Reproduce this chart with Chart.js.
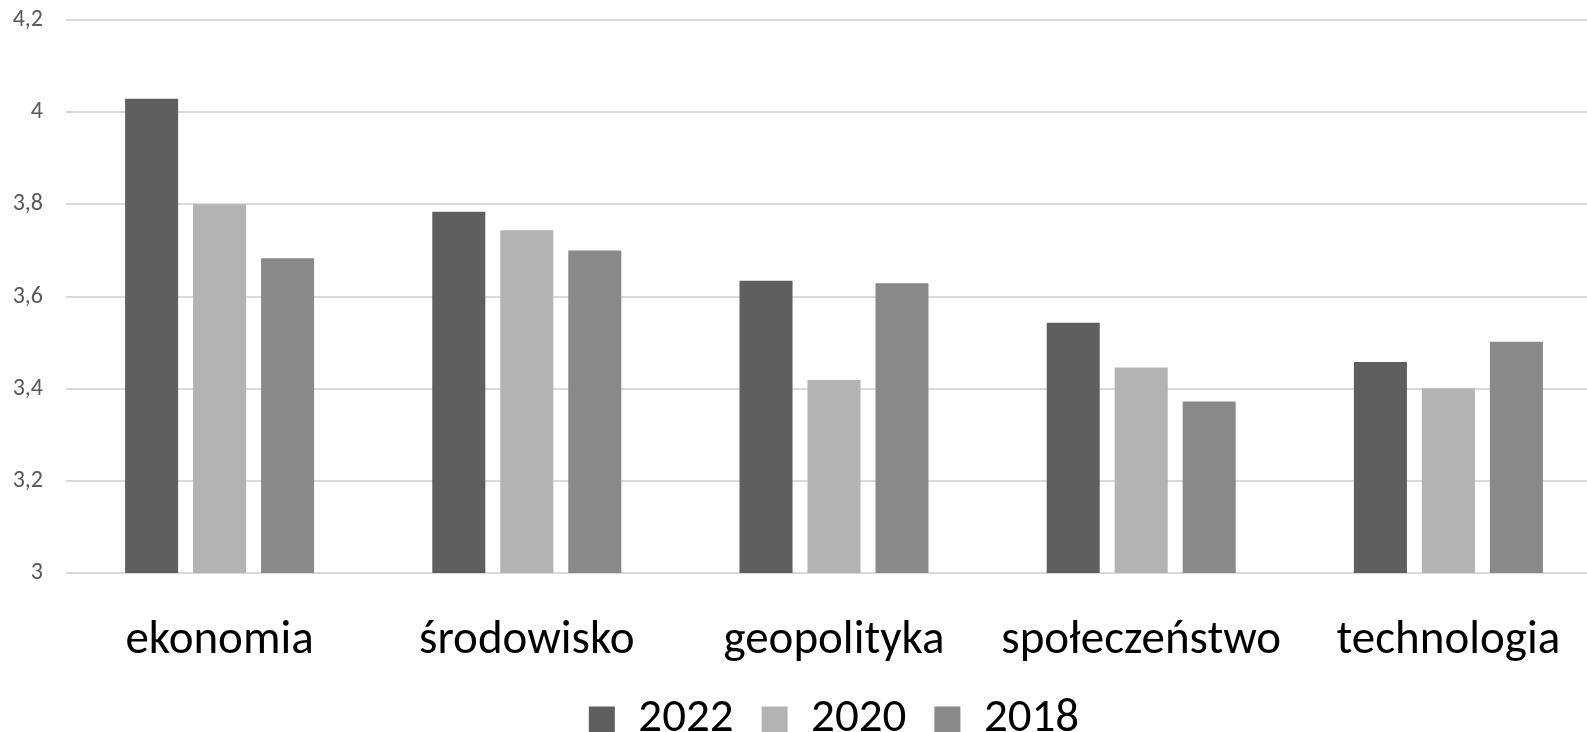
<!DOCTYPE html>
<html>
<head>
<meta charset="utf-8">
<script src="https://cdn.jsdelivr.net/npm/chart.js@4/dist/chart.umd.min.js"></script>
<style>
  html, body { margin: 0; padding: 0; overflow: hidden; background: #fff; }
  #wrap { width: 1587px; height: 732px; overflow: hidden; }
</style>
</head>
<body>
<div id="wrap"><canvas id="chart" width="1604" height="753"></canvas></div>
<script>
const categories = ['ekonomia', 'środowisko', 'geopolityka', 'społeczeństwo', 'technologia'];
const years = ['2022', '2020', '2018'];
const values2022 = [4.029, 3.784, 3.634, 3.543, 3.458];
const values2020 = [3.800, 3.744, 3.419, 3.446, 3.401];
const values2018 = [3.683, 3.700, 3.629, 3.372, 3.502];
const yTickLabels = ['3', '3,2', '3,4', '3,6', '3,8', '4', '4,2'];
const colors = ['#5f5f5f', '#b3b3b3', '#898989'];

const font = 'Carlito, Calibri, Lato, sans-serif';
const clear = 'rgba(0,0,0,0)';
const ctx = document.getElementById('chart').getContext('2d');

const chart = new Chart(ctx, {
    type: 'bar',
    data: {
        labels: categories,
        datasets: [values2022, values2020, values2018].map((data, i) => ({
            label: years[i],
            data,
            backgroundColor: colors[i],
            categoryPercentage: 0.664,
            barPercentage: 0.78
        }))
    },
    options: {
        responsive: false,
        devicePixelRatio: 1,
        animation: false,
        layout: { padding: { top: 20, left: 0, right: 2, bottom: 0 } },
        plugins: {
            tooltip: { enabled: false },
            legend: {
                position: 'bottom',
                fullSize: false,
                labels: {
                    font: { family: font, size: 47 },
                    color: '#000',
                    boxWidth: 26,
                    boxHeight: 26,
                    padding: 28
                }
            }
        },
        scales: {
            x: {
                // invisible tick marks push the labels down without adding side padding
                grid: { color: clear, drawOnChartArea: false, drawTicks: true, tickLength: 40, tickColor: clear },
                border: { display: false },
                ticks: {
                    font: { family: font, size: 47 },
                    color: '#000',
                    padding: 0,
                    maxRotation: 0
                },
                afterFit: s => { s.height = 95; }
            },
            y: {
                min: 3,
                max: 4.2,
                grid: {
                    color: '#d9d9d9',
                    lineWidth: 2,
                    drawTicks: true,
                    tickLength: 23,
                    tickColor: clear
                },
                border: { display: false },
                ticks: {
                    stepSize: 0.2,
                    font: { family: font, size: 24 },
                    color: '#595959',
                    padding: 0,
                    callback: (v, i) => yTickLabels[i]
                },
                afterFit: s => { s.width = 66; }
            }
        }
    }
});
</script>
</body>
</html>
